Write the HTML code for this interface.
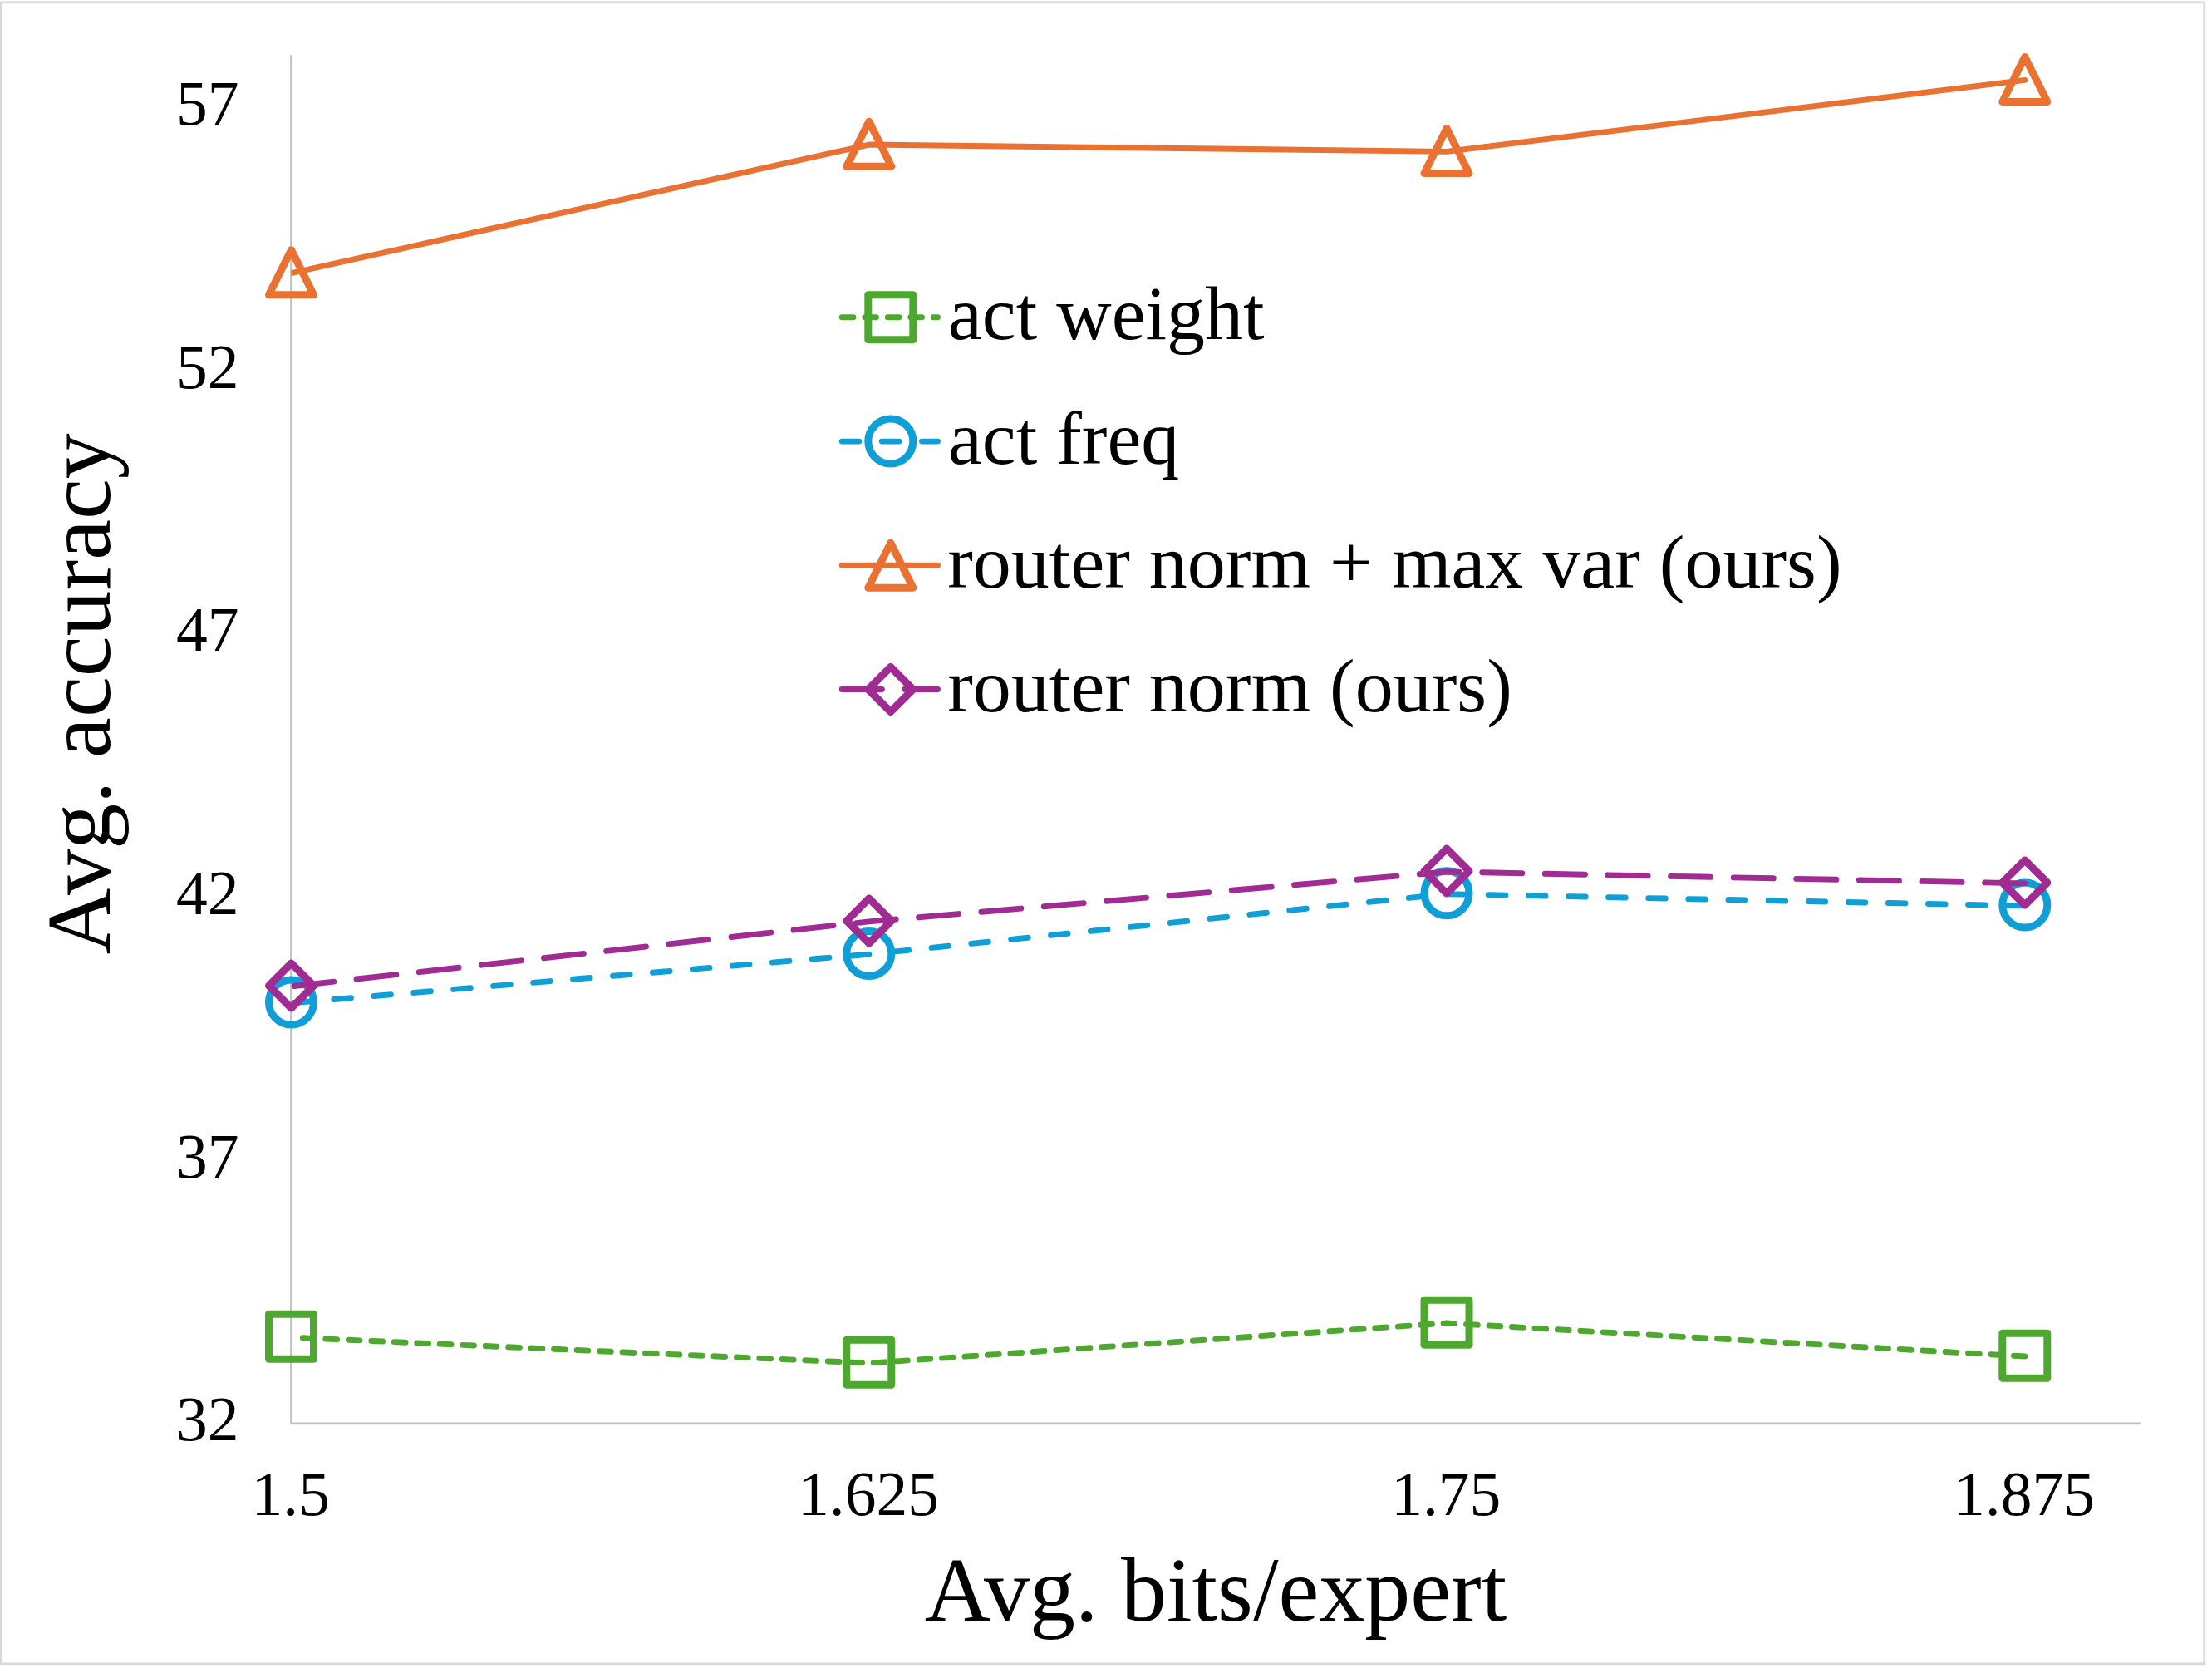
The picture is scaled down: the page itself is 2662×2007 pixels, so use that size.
<!DOCTYPE html>
<html lang="en"><head><meta charset="utf-8"><title>Avg. accuracy vs Avg. bits/expert</title>
<style>
html,body{margin:0;padding:0;background:#fff;}
body{width:2662px;height:2007px;overflow:hidden;}
svg{display:block;}
text{font-family:"Liberation Serif","Times New Roman",serif;fill:#000;}
.tick{font-size:75.5px;}
.leg{font-size:92px;}
.ttl{font-size:110px;}
</style></head><body>
<svg width="2662" height="2007" viewBox="0 0 2662 2007">
<rect x="0" y="0" width="2662" height="2007" fill="#fff"/>
<rect x="1.2" y="2.8" width="2651.6" height="1999" fill="none" stroke="#D9D9D9" stroke-width="2.8"/>
<defs><clipPath id="plot"><rect x="350.4" y="0" width="2300" height="2007"/></clipPath></defs>
<path d="M350.55 66.2V1712.8M350.55 1712.8H2575.8" fill="none" stroke="#BFBFBF" stroke-width="2.8"/>

<text class="tick" x="287.4" y="150.1" text-anchor="end">57</text>
<text class="tick" x="287.4" y="466.7" text-anchor="end">52</text>
<text class="tick" x="287.4" y="783.3" text-anchor="end">47</text>
<text class="tick" x="287.4" y="1099.9" text-anchor="end">42</text>
<text class="tick" x="287.4" y="1416.5" text-anchor="end">37</text>
<text class="tick" x="287.4" y="1733.1" text-anchor="end">32</text>
<text class="tick" x="349.7" y="1822.8" text-anchor="middle">1.5</text>
<text class="tick" x="1045.0" y="1822.8" text-anchor="middle">1.625</text>
<text class="tick" x="1740.2" y="1822.8" text-anchor="middle">1.75</text>
<text class="tick" x="2436.0" y="1822.8" text-anchor="middle">1.875</text>
<text class="ttl" x="1463" y="1950.3" text-anchor="middle">Avg. bits/expert</text>
<text class="ttl" transform="translate(131.8 834.7) rotate(-90)" text-anchor="middle">Avg. accuracy</text>
<polyline clip-path="url(#plot)" points="360.99,1609.62 1045.80,1640.15 1741.00,1592.05 2436.80,1632.05" fill="none" stroke="#4EA72E" stroke-width="6.9" stroke-linecap="round" stroke-linejoin="round" stroke-dasharray="13.75 13.75" stroke-dashoffset="-3.44"/>
<rect x="323.5" y="1581.3" width="54.0" height="54.0" fill="none" stroke="#4EA72E" stroke-width="9.0" stroke-linejoin="round"/>
<rect x="1018.8" y="1612.3" width="54.0" height="54.0" fill="none" stroke="#4EA72E" stroke-width="9.0" stroke-linejoin="round"/>
<rect x="1714.0" y="1564.2" width="54.0" height="54.0" fill="none" stroke="#4EA72E" stroke-width="9.0" stroke-linejoin="round"/>
<rect x="2409.8" y="1604.2" width="54.0" height="54.0" fill="none" stroke="#4EA72E" stroke-width="9.0" stroke-linejoin="round"/>
<polyline clip-path="url(#plot)" points="350.50,1206.85 1045.80,1148.25 1741.00,1075.65 2436.80,1089.85" fill="none" stroke="#0F9ED5" stroke-width="6.9" stroke-linecap="round" stroke-linejoin="round" stroke-dasharray="20.62 27.50" stroke-dashoffset="-3.44"/>
<circle cx="350.5" cy="1206.0" r="27.0" fill="none" stroke="#0F9ED5" stroke-width="9.0" stroke-linejoin="round"/>
<circle cx="1045.8" cy="1147.4" r="27.0" fill="none" stroke="#0F9ED5" stroke-width="9.0" stroke-linejoin="round"/>
<circle cx="1741.0" cy="1074.8" r="27.0" fill="none" stroke="#0F9ED5" stroke-width="9.0" stroke-linejoin="round"/>
<circle cx="2436.8" cy="1089.0" r="27.0" fill="none" stroke="#0F9ED5" stroke-width="9.0" stroke-linejoin="round"/>
<polyline clip-path="url(#plot)" points="350.50,328.65 1045.80,174.05 1741.00,182.35 2436.80,96.35" fill="none" stroke="#E97132" stroke-width="6.9" stroke-linecap="round" stroke-linejoin="round"/>
<path d="M350.5 300.8L377.5 354.8L323.5 354.8Z" fill="none" stroke="#E97132" stroke-width="9.0" stroke-linejoin="round"/>
<path d="M1045.8 146.2L1072.8 200.2L1018.8 200.2Z" fill="none" stroke="#E97132" stroke-width="9.0" stroke-linejoin="round"/>
<path d="M1741.0 154.5L1768.0 208.5L1714.0 208.5Z" fill="none" stroke="#E97132" stroke-width="9.0" stroke-linejoin="round"/>
<path d="M2436.8 68.5L2463.8 122.5L2409.8 122.5Z" fill="none" stroke="#E97132" stroke-width="9.0" stroke-linejoin="round"/>
<polyline clip-path="url(#plot)" points="350.50,1186.85 1045.80,1108.85 1741.00,1048.95 2436.80,1062.85" fill="none" stroke="#A02B93" stroke-width="6.9" stroke-linecap="round" stroke-linejoin="round" stroke-dasharray="48.12 27.50" stroke-dashoffset="-3.44"/>
<path d="M350.5 1159.0L377.5 1186.0L350.5 1213.0L323.5 1186.0Z" fill="none" stroke="#A02B93" stroke-width="9.0" stroke-linejoin="round"/>
<path d="M1045.8 1081.0L1072.8 1108.0L1045.8 1135.0L1018.8 1108.0Z" fill="none" stroke="#A02B93" stroke-width="9.0" stroke-linejoin="round"/>
<path d="M1741.0 1021.1L1768.0 1048.1L1741.0 1075.1L1714.0 1048.1Z" fill="none" stroke="#A02B93" stroke-width="9.0" stroke-linejoin="round"/>
<path d="M2436.8 1035.0L2463.8 1062.0L2436.8 1089.0L2409.8 1062.0Z" fill="none" stroke="#A02B93" stroke-width="9.0" stroke-linejoin="round"/>
<line x1="1009.8" y1="381.7" x2="1128.5" y2="381.7" stroke="#4EA72E" stroke-width="6.9" stroke-linecap="round" stroke-dasharray="13.75 13.75" stroke-dashoffset="-3.44"/>
<rect x="1044.8" y="354.7" width="54.0" height="54.0" fill="none" stroke="#4EA72E" stroke-width="9.0" stroke-linejoin="round"/>
<text class="leg" x="1141" y="408.3">act weight</text>
<line x1="1009.8" y1="531.1" x2="1128.5" y2="531.1" stroke="#0F9ED5" stroke-width="6.9" stroke-linecap="round" stroke-dasharray="20.62 27.50" stroke-dashoffset="-3.44"/>
<circle cx="1071.8" cy="531.1" r="27.0" fill="none" stroke="#0F9ED5" stroke-width="9.0" stroke-linejoin="round"/>
<text class="leg" x="1141" y="557.7">act freq</text>
<line x1="1013.3" y1="680.3" x2="1128.5" y2="680.3" stroke="#E97132" stroke-width="6.9" stroke-linecap="round"/>
<path d="M1071.8 653.3L1098.8 707.3L1044.8 707.3Z" fill="none" stroke="#E97132" stroke-width="9.0" stroke-linejoin="round"/>
<text class="leg" x="1140.2" y="706.9">router norm + max var (ours)</text>
<line x1="1009.8" y1="829.5" x2="1128.5" y2="829.5" stroke="#A02B93" stroke-width="6.9" stroke-linecap="round" stroke-dasharray="48.12 27.50" stroke-dashoffset="-3.44"/>
<path d="M1071.8 802.5L1098.8 829.5L1071.8 856.5L1044.8 829.5Z" fill="none" stroke="#A02B93" stroke-width="9.0" stroke-linejoin="round"/>
<text class="leg" x="1140.2" y="856.1">router norm (ours)</text>
</svg>
</body></html>
